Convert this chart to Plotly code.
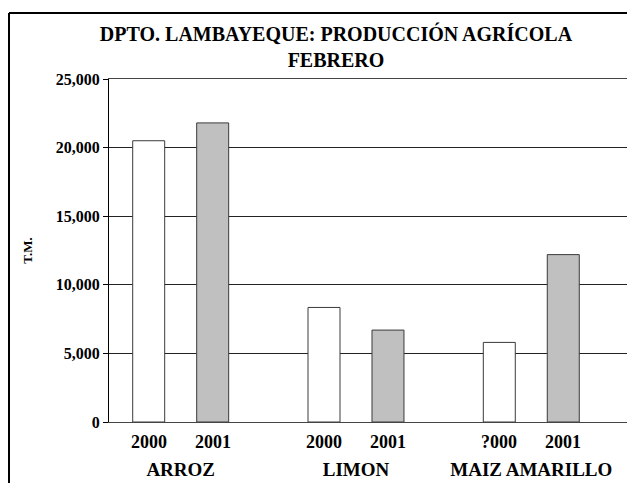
import plotly.graph_objects as go

# data
cultivos = ['ARROZ', 'LIMON', 'MAIZ AMARILLO']
prod_2000 = [20500, 8350, 5800]
prod_2001 = [21800, 6700, 12200]
etiq_2000 = ['2000', '2000', '?000']
etiq_2001 = ['2001', '2001', '2001']
y_ticks = [0, 5000, 10000, 15000, 20000, 25000]

W, H = 627, 483
L, T, B = 109, 79, 61
FONT = 'Liberation Serif, Times New Roman, serif'
bar_line = dict(color='#3a3a3a', width=1)

fig = go.Figure()
fig.add_trace(go.Bar(x=cultivos, y=prod_2000, name='2000', marker=dict(color='white', line=bar_line)))
fig.add_trace(go.Bar(x=cultivos, y=prod_2001, name='2001', marker=dict(color='#c0c0c0', line=bar_line)))

# year labels under each bar
for i, c in enumerate(cultivos):
    for txt, dx in [(etiq_2000[i], -32), (etiq_2001[i], 32)]:
        fig.add_annotation(x=c, y=0, xref='x', yref='y', text=txt, showarrow=False, xshift=dx, yshift=-20,
                           font=dict(family=FONT, size=18, color='black', weight='bold'))

# outer frame (cut off at right and bottom like the original): left and top edges
pw, ph = W - L, H - T - B
fx0, fy1 = (9 - L) / pw, (H - B - 13) / ph
frame = dict(color='black', width=2)
fig.add_shape(type='line', xref='paper', yref='paper', x0=fx0, x1=fx0, y0=-0.3, y1=fy1, line=frame)
fig.add_shape(type='line', xref='paper', yref='paper', x0=fx0, x1=1.1, y0=fy1, y1=fy1, line=frame)

fig.update_layout(
    width=W, height=H, showlegend=False, barmode='group', bargap=0.27, bargroupgap=0.5,
    plot_bgcolor='white', paper_bgcolor='white',
    margin=dict(l=L, r=0, t=T, b=B),
    title=dict(text='DPTO. LAMBAYEQUE: PRODUCCIÓN AGRÍCOLA<br>FEBRERO', x=336 / W, xanchor='center',
               y=1 - 41 / H, yanchor='top', font=dict(family=FONT, size=20, color='black', weight='bold')),
    font=dict(family=FONT, color='black'),
)
fig.update_xaxes(range=[-0.409, 2.546], showgrid=False, showline=True, mirror=True, linecolor='#444', linewidth=1,
                 ticks='', zeroline=False,
                 ticklabelstandoff=30, tickfont=dict(family=FONT, size=19, color='black', weight='bold'))
fig.update_yaxes(range=[0, 25000], tickvals=y_ticks, tickformat=',d', showgrid=True, gridcolor='#222', gridwidth=1,
                 showline=True, linecolor='black', linewidth=1, ticks='outside', ticklen=5, tickcolor='black',
                 zeroline=False,
                 tickfont=dict(family=FONT, size=16, color='black', weight='bold'),
                 title=dict(text='T.M.', standoff=20, font=dict(family=FONT, size=13, color='black', weight='bold')))

fig.write_html('out.html', config={'displayModeBar': False}, post_script="document.body.style.margin='0';")
